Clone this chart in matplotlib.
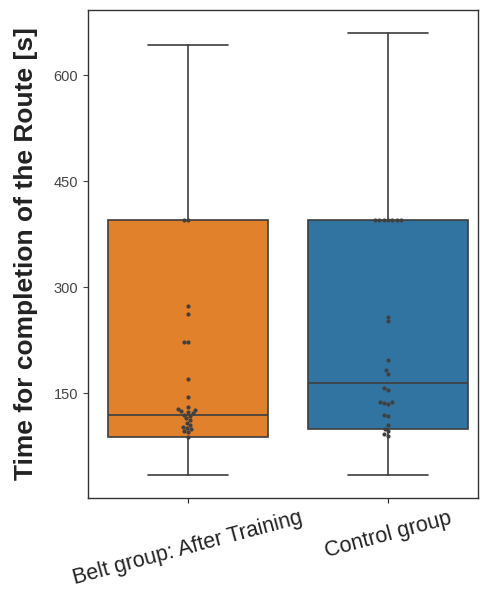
import matplotlib
matplotlib.use("Agg")
import matplotlib.pyplot as plt
import seaborn as sns
import pandas as pd

sns.set_style("ticks")
plt.rcParams['font.family'] = ['Liberation Sans', 'DejaVu Sans']

groups = ["Belt group: After Training", "Control group"]
box_colors = ["#e1812c", "#3274a1"]

# five-number summaries per group: whisker low, q1, median, q3, whisker high
whislo = [34, 34]
q1 = [88, 100]
medians = [119, 164]
q3 = [395, 395]
whishi = [642, 659]

belt_times = [395, 395, 273, 262, 223, 223, 170, 145, 131, 128, 127, 125,
              124, 122, 120, 118, 115, 112, 108, 105, 103, 101, 99, 97, 95, 88]
control_times = [395, 395, 395, 395, 395, 395, 395, 258, 252, 197, 183, 178,
                 158, 155, 138, 137, 136, 135, 120, 118, 105, 100, 96, 93, 90]

fig = plt.figure(figsize=(4.81, 5.90), dpi=100)
ax = fig.add_axes([0.183, 0.156, 0.811, 0.827])

stats = []
for i, g in enumerate(groups):
    stats.append(dict(label=g, whislo=whislo[i], q1=q1[i], med=medians[i],
                      q3=q3[i], whishi=whishi[i], fliers=[]))

line_col = "#3d3d3d"
bp = ax.bxp(stats, positions=[0, 1], widths=0.8, patch_artist=True,
            showfliers=False,
            boxprops=dict(edgecolor=line_col, linewidth=1.2),
            medianprops=dict(color=line_col, linewidth=1.2),
            whiskerprops=dict(color=line_col, linewidth=1.2),
            capprops=dict(color=line_col, linewidth=1.2))
for patch, c in zip(bp["boxes"], box_colors):
    patch.set_facecolor(c)

df = pd.DataFrame({
    "group": [groups[0]] * len(belt_times) + [groups[1]] * len(control_times),
    "time": belt_times + control_times,
})
sns.swarmplot(data=df, x="group", y="time", order=groups, color=".25",
              size=3, ax=ax)

ax.set_xlim(-0.5, 1.45)
ax.set_ylim(2, 692)
ax.set_yticks([150, 300, 450, 600])
ax.set_xticks([0, 1])
ax.set_xticklabels(groups, rotation=15, fontsize=15.5, color="#222222")
ax.tick_params(axis="y", labelsize=10.5, colors="#444444")
ax.tick_params(axis="x", colors="#222222")
for s in ax.spines.values():
    s.set_color("#333333")
    s.set_linewidth(1.0)
ax.set_xlabel("")
ax.set_ylabel("Time for completion of the Route [s]", fontsize=19,
              fontweight="bold", color="#222222", labelpad=11)

fig.savefig("out.png", dpi=100)
